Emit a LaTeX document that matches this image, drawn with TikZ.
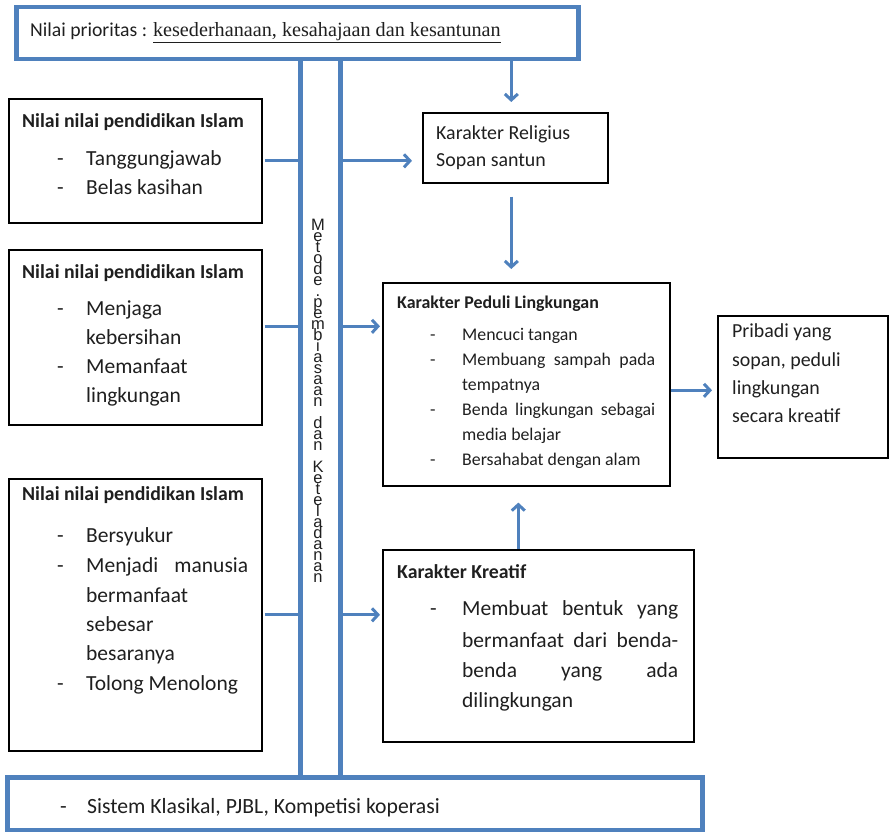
\documentclass[tikz,border=0pt]{standalone}
\usepackage{fontspec}
\setmainfont{Carlito}
\newfontfamily\serifb{Liberation Serif}
\newfontfamily\vfont{Liberation Sans}
\usetikzlibrary{arrows.meta}
\definecolor{myblue}{HTML}{4F81BD}
\newcommand{\vertword}{\vbox{\baselineskip=11pt\lineskiplimit=-100pt\lineskip=0pt\halign{\hfil##\hfil\cr
M\cr e\cr t\cr o\cr d\cr e\cr .\cr p\cr e\cr m\cr b\cr i\cr a\cr s\cr a\cr a\cr n\cr \cr d\cr a\cr n\cr \cr K\cr e\cr t\cr e\cr l\cr a\cr d\cr a\cr n\cr a\cr n\cr}}}
\begin{document}
\begin{tikzpicture}[x=1pt,y=-1pt,
  bar/.style={draw=myblue,line width=4.5pt,anchor=north west,inner sep=0pt},
  blkbox/.style={draw=black,line width=1.6pt,anchor=north west,inner sep=0pt},
  conn/.style={draw=myblue,line width=3pt},
  arr/.style={conn,-{Straight Barb[length=6pt,width=13pt]}},
  txt/.style={anchor=base west,inner sep=0pt,text=black!88},
  hd/.style={txt,font=\fontsize{19.8}{24}\selectfont\bfseries},
  hds/.style={txt,font=\fontsize{17.9}{22}\selectfont\bfseries},
  bd/.style={txt,font=\fontsize{21.5}{26}\selectfont},
  bds/.style={txt,font=\fontsize{17.8}{22}\selectfont},
  bdm/.style={txt,font=\fontsize{19.9}{24}\selectfont},
  ]
\useasboundingbox (0,0) rectangle (889,832);

% bars and channel
\node[bar,minimum width=562pt,minimum height=52pt] (T) at (14,5) {};
\node[bar,minimum width=40pt,minimum height=718pt] (chan) at (298,57) {};
\node[bar,minimum width=695pt,minimum height=53pt] (Bt) at (5,775) {};

% boxes
\node[blkbox,minimum width=253pt,minimum height=124pt] (L1) at (8,98) {};
\node[blkbox,minimum width=253pt,minimum height=175pt] (L2) at (8,249) {};
\node[blkbox,minimum width=253pt,minimum height=272pt] (L3) at (8,478) {};
\node[blkbox,minimum width=185pt,minimum height=70pt] (R1) at (422,112) {};
\node[blkbox,minimum width=287pt,minimum height=203pt] (P) at (382,282) {};
\node[blkbox,minimum width=311pt,minimum height=192pt] (K) at (382,549) {};
\node[blkbox,minimum width=170pt,minimum height=142pt] (B) at (717,315) {};

% connectors
\coordinate (c2) at ([yshift=11pt]L2.east);
\draw[conn] ([xshift=2pt]L1.east) -- (chan.west |- L1.east);
\draw[conn] ([xshift=2pt]c2) -- (chan.west |- c2);
\draw[conn] ([xshift=2pt]L3.east) -- (chan.west |- L3.east);
\draw[arr] (chan.east |- L1.east) -- ([xshift=-10pt]R1.west |- L1.east);
\draw[arr,shorten >=2pt] (chan.east |- c2) -- (P.west |- c2);
\draw[arr,shorten >=2pt] (chan.east |- L3.east) -- (K.west |- L3.east);

\coordinate (ta) at ([xshift=-4pt]R1.north);
\coordinate (tb) at ([xshift=-4pt]R1.south);
\coordinate (ka) at ([xshift=-20pt]K.north);
\coordinate (pe) at ([yshift=-6pt]P.east);
\draw[arr] (ta |- T.south) -- ([yshift=10pt]ta);
\draw[arr,shorten <=13pt,shorten >=13pt] (tb) -- (tb |- P.north);
\draw[arr,shorten >=16pt] (ka) -- (ka |- P.south);
\draw[arr,shorten >=5pt] (pe) -- (pe -| B.west);

% top text
\node[txt,font=\fontsize{19.7}{24}\selectfont] (tt) at (30,37) {Nilai prioritas : {\serifb\fontsize{20.2}{24}\selectfont\underline{kesederhanaan, kesahajaan dan kesantunan}}};

% vertical text
\node[inner sep=0pt,text=black!88,font=\vfont\fontsize{16.5}{11}\selectfont] (vt) at (318,401) {\vertword};

% L1
\node[hd] (h1) at (22,128) {Nilai nilai pendidikan Islam};
\node[bd] (d11) at (57,165) {-};
\node[bd] (t11) at (86,165) {Tanggungjawab};
\node[bd] (d12) at (57,194) {-};
\node[bd] (t12) at (86,194) {Belas kasihan};

% L2
\node[hd] (h2) at (22,278) {Nilai nilai pendidikan Islam};
\node[bd] (d21) at (57,315) {-};
\node[bd] (t21) at (86,315) {Menjaga};
\node[bd] (t22) at (86,344) {kebersihan};
\node[bd] (d23) at (57,373) {-};
\node[bd] (t23) at (86,373) {Memanfaat};
\node[bd] (t24) at (86,402) {lingkungan};

% L3
\node[hd] (h3) at (22,500) {Nilai nilai pendidikan Islam};
\node[bd] (d31) at (57,542) {-};
\node[bd] (t31) at (86,542) {Bersyukur};
\node[bd] (d32) at (57,572) {-};
\node[bd] (t32) at (86,572) {\makebox[162pt][s]{Menjadi manusia}};
\node[bd] (t33) at (86,602) {bermanfaat};
\node[bd] (t34) at (86,631) {sebesar};
\node[bd] (t35) at (86,660) {besaranya};
\node[bd] (d36) at (57,690) {-};
\node[bd] (t36) at (86,690) {Tolong Menolong};

% R1
\node[bdm] (r11) at (436,140) {Karakter Religius};
\node[bdm] (r12) at (436,167) {Sopan santun};

% P
\node[hds] (hp) at (397,308) {Karakter Peduli Lingkungan};
\node[bds] (dp1) at (430,340) {-};
\node[bds] (p1) at (462,340) {Mencuci tangan};
\node[bds] (dp2) at (430,365) {-};
\node[bds] (p2) at (462,365) {\makebox[193pt][s]{Membuang sampah pada}};
\node[bds] (p3) at (462,390) {tempatnya};
\node[bds] (dp4) at (430,415) {-};
\node[bds] (p4) at (462,415) {\makebox[193pt][s]{Benda lingkungan sebagai}};
\node[bds] (p5) at (462,440) {media belajar};
\node[bds] (dp6) at (430,465) {-};
\node[bds] (p6) at (462,465) {Bersahabat dengan alam};

% K
\node[hd] (hk) at (397,578) {Karakter Kreatif};
\node[bd] (dk1) at (430,615) {-};
\node[bd] (k1) at (462,615) {\makebox[216pt][s]{Membuat bentuk yang}};
\node[bd] (k2) at (462,647) {\makebox[216pt][s]{bermanfaat dari benda-}};
\node[bd] (k3) at (462,677) {\makebox[216pt][s]{benda yang ada}};
\node[bd] (k4) at (462,707) {dilingkungan};

% B
\node[bdm] (b1) at (732,337) {Pribadi yang};
\node[bdm] (b2) at (732,366) {sopan, peduli};
\node[bdm] (b3) at (732,394) {lingkungan};
\node[bdm] (b4) at (732,422) {secara kreatif};

% bottom
\node[bd,font=\fontsize{21.7}{26}\selectfont] (db) at (60,813) {-};
\node[bd,font=\fontsize{21.7}{26}\selectfont] (tb1) at (87,813) {Sistem Klasikal, PJBL, Kompetisi koperasi};
\end{tikzpicture}
\end{document}
